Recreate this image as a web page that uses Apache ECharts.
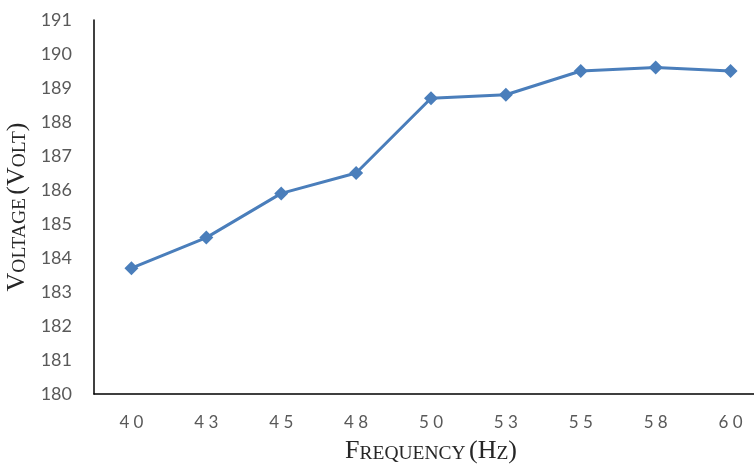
<!DOCTYPE html>
<html>
<head>
<meta charset="utf-8">
<script src="https://cdn.jsdelivr.net/npm/echarts@6/dist/echarts.min.js"></script>
<style>
  html, body { margin: 0; padding: 0; background: #fff; }
  #main { width: 754px; height: 464px; }
</style>
</head>
<body>
<div id="main"></div>
<script>
// 频率 (Hz) 与电压 (V)
const frequency = ["40", "43", "45", "48", "50", "53", "55", "58", "60"];
const voltage = [183.7, 184.6, 185.9, 186.5, 188.7, 188.8, 189.5, 189.6, 189.5];
const yMin = 180;
const yMax = 191;

const Chart = echarts.init(document.getElementById("main"));

// 小型大写字母样式
const capStyle = {
  big: { fontFamily: "Liberation Serif", fontSize: 26, color: "#262626", verticalAlign: "bottom" },
  small: { fontFamily: "Liberation Serif", fontSize: 19.5, color: "#262626", verticalAlign: "bottom" },
};

const options = {
  animation: false,
  grid: {
    left: 94,
    top: 20,
    right: -14,
    bottom: 70,
    containLabel: false,
    outerBoundsMode: "none",
  },
  xAxis: {
    type: "category",
    data: frequency,
    boundaryGap: true,
    name: "{big|F}{small|REQUENCY} {big|(H}{small|Z}{big|)}",
    nameLocation: "middle",
    nameGap: 44,
    nameTextStyle: { rich: capStyle },
    axisLine: { lineStyle: { color: "#000", width: 1.5 } },
    axisTick: { show: false },
    axisLabel: {
      margin: 20,
      fontFamily: "Lato",
      fontSize: 17,
      color: "#595959",
      formatter: (v) => v.split("").join(" "),
    },
  },
  yAxis: {
    type: "value",
    min: yMin,
    max: yMax,
    interval: 1,
    name: "{big|V}{small|OLTAGE} {big|(V}{small|OLT}{big|)}",
    nameLocation: "middle",
    nameRotate: 90,
    nameGap: 59,
    nameTextStyle: { rich: capStyle },
    axisLine: { show: true, lineStyle: { color: "#000", width: 1.5 } },
    axisTick: { show: false },
    splitLine: { show: false },
    axisLabel: {
      margin: 22,
      fontFamily: "Lato",
      fontSize: 18,
      color: "#595959",
    },
  },
  series: [
    {
      type: "line",
      data: voltage,
      symbol: "diamond",
      symbolSize: 14,
      itemStyle: { color: "#4A7EBB" },
      lineStyle: { color: "#4A7EBB", width: 3 },
    },
  ],
};

Chart.setOption(options);
</script>
</body>
</html>
